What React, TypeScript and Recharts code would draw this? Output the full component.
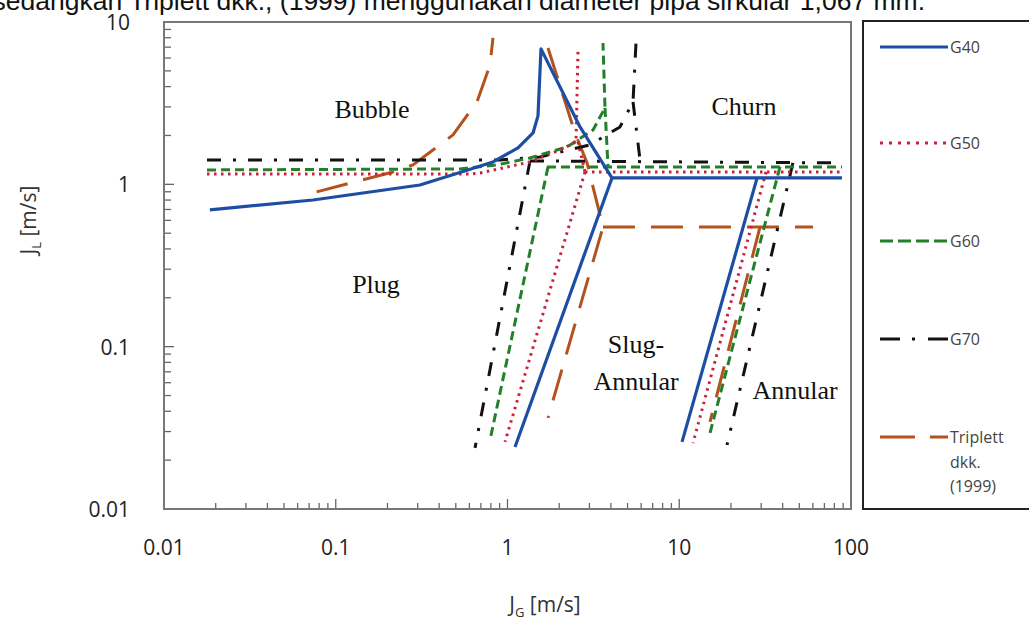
import React from 'react';
import { LineChart, Line, XAxis, YAxis } from 'recharts';

// JG [m/s] vs JL [m/s]
type Pt = { x: number; y: number };

const g40Bubble: Pt[] = [
  { x: 0.0185, y: 0.696 }, { x: 0.0737, y: 0.801 }, { x: 0.309, y: 0.991 }, { x: 0.495, y: 1.159 },
  { x: 0.823, y: 1.374 }, { x: 1.151, y: 1.676 }, { x: 1.408, y: 2.073 }, { x: 1.505, y: 2.639 },
  { x: 1.567, y: 6.83 }, { x: 2.644, y: 2.258 }, { x: 3.696, y: 1.28 }, { x: 4.059, y: 1.095 },
  { x: 88.6, y: 1.095 },
];
const g40Slug: Pt[] = [{ x: 4.059, y: 1.095 }, { x: 1.106, y: 0.0241 }];
const g40Annular: Pt[] = [{ x: 28.4, y: 1.095 }, { x: 10.38, y: 0.0259 }];

const g50Bubble: Pt[] = [
  { x: 0.0178, y: 1.159 }, { x: 0.605, y: 1.159 }, { x: 0.692, y: 1.175 }, { x: 1.352, y: 1.374 },
  { x: 2.022, y: 1.629 }, { x: 2.505, y: 1.825 }, { x: 2.574, y: 6.73 },
];
const g50Drop: Pt[] = [{ x: 2.574, y: 1.825 }, { x: 2.827, y: 1.192 }];
const g50Churn: Pt[] = [{ x: 2.827, y: 1.192 }, { x: 88.6, y: 1.192 }];
const g50Slug: Pt[] = [{ x: 2.827, y: 1.192 }, { x: 0.967, y: 0.0259 }];
const g50Annular: Pt[] = [{ x: 32.0, y: 1.192 }, { x: 12.03, y: 0.0255 }];

const g60Bubble: Pt[] = [
  { x: 0.0178, y: 1.227 }, { x: 0.529, y: 1.244 }, { x: 0.869, y: 1.317 }, { x: 1.352, y: 1.454 },
  { x: 2.221, y: 1.7 }, { x: 3.148, y: 2.164 }, { x: 3.696, y: 2.957 }, { x: 3.597, y: 7.43 },
];
const g60Drop: Pt[] = [{ x: 3.696, y: 2.957 }, { x: 3.848, y: 1.28 }];
const g60Churn: Pt[] = [{ x: 1.698, y: 1.28 }, { x: 88.6, y: 1.28 }];
const g60Slug: Pt[] = [{ x: 1.721, y: 1.28 }, { x: 0.791, y: 0.0266 }];
const g60Annular: Pt[] = [{ x: 38.6, y: 1.28 }, { x: 15.1, y: 0.0294 }];

const g70Bubble: Pt[] = [
  { x: 0.0178, y: 1.413 }, { x: 0.904, y: 1.413 }, { x: 1.546, y: 1.475 }, { x: 3.022, y: 1.749 },
  { x: 4.519, y: 2.258 }, { x: 5.38, y: 3.22 }, { x: 5.6, y: 7.43 },
];
const g70Drop: Pt[] = [{ x: 5.38, y: 3.22 }, { x: 5.91, y: 1.413 }];
const g70Churn: Pt[] = [{ x: 1.352, y: 1.394 }, { x: 88.6, y: 1.355 }];
const g70Slug: Pt[] = [{ x: 1.352, y: 1.394 }, { x: 0.647, y: 0.0238 }];
const g70Annular: Pt[] = [{ x: 45.9, y: 1.355 }, { x: 18.97, y: 0.0248 }];

const tripBubble: Pt[] = [
  { x: 0.0774, y: 0.898 }, { x: 0.2154, y: 1.192 }, { x: 0.2817, y: 1.317 }, { x: 0.4817, y: 2.016 },
  { x: 0.664, y: 3.22 }, { x: 0.791, y: 5.44 }, { x: 0.823, y: 7.98 },
];
const tripChurn: Pt[] = [
  { x: 1.721, y: 6.92 }, { x: 2.472, y: 2.073 }, { x: 2.904, y: 1.355 }, { x: 3.32, y: 0.768 },
  { x: 3.597, y: 0.546 }, { x: 1.721, y: 0.0364 },
];
const tripSlug: Pt[] = [{ x: 3.597, y: 0.546 }, { x: 60.1, y: 0.546 }];
const tripAnnular: Pt[] = [{ x: 29.53, y: 0.546 }, { x: 15.1, y: 0.0344 }];

const DECADES_X = [0.01, 0.1, 1, 10];
const DECADES_Y = [0.01, 0.1, 1];
const MULTS = [1, 2, 3, 4, 5, 6, 7, 8, 9];
const xTicks = [...DECADES_X.flatMap(d => MULTS.map(m => +(d * m).toPrecision(6))), 100];
const yTicks = [...DECADES_Y.flatMap(d => MULTS.map(m => +(d * m).toPrecision(6))), 10];

const regions = [
  { text: 'Bubble', x: 372, y: 118 },
  { text: 'Churn', x: 744, y: 115 },
  { text: 'Plug', x: 376, y: 293 },
  { text: 'Slug-', x: 636, y: 353 },
  { text: 'Annular', x: 636, y: 390 },
  { text: 'Annular', x: 795, y: 399 },
];

const series = [
  { name: 'Triplett', color: '#b4521d', dash: '32 16', width: 3, segs: [tripBubble, tripChurn, tripSlug, tripAnnular] },
  { name: 'G70', color: '#111111', dash: '14 12 3 12', width: 3, segs: [g70Bubble, g70Drop, g70Churn, g70Slug, g70Annular] },
  { name: 'G60', color: '#23802a', dash: '9 5', width: 3, segs: [g60Bubble, g60Drop, g60Churn, g60Slug, g60Annular] },
  { name: 'G50', color: '#cc1f3c', dash: '2.5 4.5', width: 3, segs: [g50Bubble, g50Drop, g50Churn, g50Slug, g50Annular] },
  { name: 'G40', color: '#1d4ea3', dash: undefined, width: 3.2, segs: [g40Bubble, g40Slug, g40Annular] },
];

const legendItems = [
  { label: ['G40'], color: '#1d4ea3', dash: undefined, y: 47 },
  { label: ['G50'], color: '#cc1f3c', dash: '3 6', y: 143 },
  { label: ['G60'], color: '#23802a', dash: '13 5', y: 241 },
  { label: ['G70'], color: '#111111', dash: '20 12 3 13', y: 339 },
  { label: ['Triplett', 'dkk.', '(1999)'], color: '#b4521d', dash: '35 15', y: 437 },
];

const isMajor = (v: number) => Math.abs(Math.log10(v) - Math.round(Math.log10(v))) < 1e-6;
const tickFont = '"Open Sans", "DejaVu Sans", sans-serif';

function XTick({ x, y, payload }: any) {
  const v = payload.value;
  const major = isMajor(v);
  return (
    <g>
      <line x1={x} x2={x} y1={y} y2={y - (major ? 10 : 6)} stroke="#666" strokeWidth={1.3} />
      {major && (
        <text x={x} y={y + 46} textAnchor="middle" fontSize={21} fontFamily={tickFont} fill="#222">{String(v)}</text>
      )}
    </g>
  );
}

function YTick({ x, y, payload }: any) {
  const v = payload.value;
  const major = isMajor(v);
  return (
    <g>
      <line x1={x} x2={x + (major ? 10 : 7)} y1={y} y2={y} stroke="#666" strokeWidth={1.3} />
      {major && (
        <text x={130} y={y + 8} textAnchor="end" fontSize={21} fontFamily={tickFont} fill="#222">{String(v)}</text>
      )}
    </g>
  );
}

export default function App() {
  return (
    <div style={{ position: 'absolute', left: 0, top: 0, width: 1029, height: 622, background: '#fff', overflow: 'hidden' }}>
      <LineChart width={1029} height={622} margin={{ top: 22, right: 178, bottom: 0, left: 0 }}>
        <XAxis
          type="number" dataKey="x" scale="log" domain={[0.01, 100]} allowDataOverflow
          ticks={xTicks} interval={0} tick={<XTick />} tickLine={false} axisLine={false}
          tickSize={0} tickMargin={0} height={113}
        />
        <YAxis
          type="number" dataKey="y" scale="log" domain={[0.01, 10]} allowDataOverflow
          ticks={yTicks} interval={0} tick={<YTick />} tickLine={false} axisLine={false}
          tickSize={0} tickMargin={0} width={164}
        />
        {series.map(s =>
          s.segs.map((seg, i) => (
            <Line
              key={s.name + i}
              data={seg}
              dataKey="y"
              type="linear"
              stroke={s.color}
              strokeWidth={s.width}
              strokeDasharray={s.dash}
              strokeLinejoin="round"
              dot={false}
              activeDot={false}
              isAnimationActive={false}
            />
          ))
        )}
      </LineChart>

      {/* plot frame */}
      <div style={{ position: 'absolute', left: 163, top: 21, width: 689, height: 489, border: '2px solid #777', boxSizing: 'border-box', pointerEvents: 'none' }} />

      {/* legend box */}
      <div style={{ position: 'absolute', left: 862, top: 20, width: 190, height: 490, border: '2px solid #222', boxSizing: 'border-box', pointerEvents: 'none' }} />

      <svg width={1029} height={622} style={{ position: 'absolute', left: 0, top: 0, pointerEvents: 'none' }}>
        <text x={925} y={10} textAnchor="end" fontSize={26.5} fontFamily='"Liberation Sans", Arial, sans-serif' fill="#111">
          sedangkan Triplett dkk., (1999) menggunakan diameter pipa sirkular 1,067 mm.
        </text>

        {regions.map((r, i) => (
          <text key={i} x={r.x} y={r.y} textAnchor="middle" fontSize={26} fontFamily='"Liberation Serif", "Times New Roman", serif' fill="#111">
            {r.text}
          </text>
        ))}

        <text x={545} y={612} textAnchor="middle" fontSize={21} fontFamily={tickFont} fill="#333">
          J<tspan fontSize={13} dy={5}>G</tspan><tspan dy={-5}> [m/s]</tspan>
        </text>
        <text transform="translate(36,220) rotate(-90)" textAnchor="middle" fontSize={21} fontFamily={tickFont} fill="#333">
          J<tspan fontSize={13} dy={5}>L</tspan><tspan dy={-5}> [m/s]</tspan>
        </text>

        {legendItems.map((it, i) => (
          <g key={i}>
            <line x1={880} x2={948} y1={it.y} y2={it.y} stroke={it.color} strokeWidth={3} strokeDasharray={it.dash} />
            {it.label.map((l, j) => (
              <text key={j} x={950} y={it.y + 6 + j * 24.5} fontSize={16} fontFamily={tickFont} fill="#444">{l}</text>
            ))}
          </g>
        ))}
      </svg>
    </div>
  );
}
